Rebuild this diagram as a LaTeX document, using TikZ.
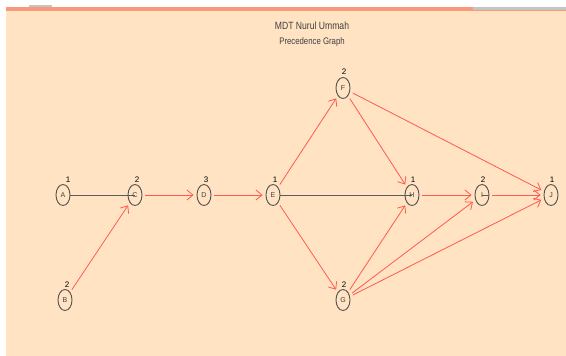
\documentclass[tikz,border=0pt]{standalone}
\usepackage{fontspec}
\setmainfont{Liberation Sans}
\usetikzlibrary{shapes.geometric,arrows.meta,backgrounds}
\definecolor{bg}{HTML}{FFE3C3}
\definecolor{stripe}{HTML}{F8997A}
\definecolor{redl}{HTML}{FF5A4E}
\definecolor{dk}{HTML}{3F3F3F}
\definecolor{gr}{HTML}{C4C4C4}
\tikzset{
  act/.style={ellipse,draw=dk!90,line width=0.9pt,minimum width=14pt,minimum height=21pt,inner sep=0pt,font=\fontsize{7}{7}\selectfont,text=dk},
  dur/.style={font=\fontsize{8}{8}\selectfont,text=black,inner sep=0pt},
  redarr/.style={draw=redl,line width=0.8pt,-{Straight Barb[length=6pt,width=10pt,line width=0.8pt]},shorten >=3pt,shorten <=3pt},
  blk/.style={draw=dk!85,line width=0.9pt}
}
\begin{document}
\begin{tikzpicture}[x=1pt,y=-1pt]
\useasboundingbox (0,0) rectangle (566,356);
% nodes
\node[act] (A) at (63,195) {A};
\node[act] (B) at (65,300) {B};
\node[act] (C) at (135,195) {C};
\node[act] (D) at (204,195) {D};
\node[act] (E) at (273,195) {E};
\node[act] (F) at (343,88) {F};
\node[act] (G) at (343,300) {G};
\node[act] (H) at (412,195) {H};
\node[act] (I) at (482,195) {I};
\node[act] (J) at (551,195) {J};
\begin{scope}[on background layer]
\fill[white] (0,0) rectangle (566,356);
\fill[bg] (6,10) rectangle (566,356);
\fill[stripe] (6,7) rectangle (566,11);
\fill[gr] (473,7) rectangle (566,9.5);
\fill[gr] (29,5) rectangle (52,7);
\draw[blk] (A) -- (C.center);
\draw[blk] (E) -- (H.center);
\draw[blk] (I.center) -- (I.east);
\end{scope}
\node[font=\fontsize{10.5}{10.5}\selectfont,text=dk,xscale=0.82] (t1) at (312,26) {MDT Nurul Ummah};
\node[font=\fontsize{9.5}{9.5}\selectfont,text=dk,xscale=0.82] (t2) at (312,42) {Precedence Graph};
% durations
\node[dur] (dA) at (68,180) {1};
\node[dur] (dB) at (67,285) {2};
\node[dur] (dC) at (137,180) {2};
\node[dur] (dD) at (206,180) {3};
\node[dur] (dE) at (275,180) {1};
\node[dur] (dF) at (344,72) {2};
\node[dur] (dG) at (344,285) {2};
\node[dur] (dH) at (413,180) {1};
\node[dur] (dI) at (483,180) {2};
\node[dur] (dJ) at (552,180) {1};
% edges
\draw[redarr] (C) -- (D);
\draw[redarr] (D) -- (E);
\draw[redarr] (B) -- (C);
\draw[redarr] (E) -- (F);
\draw[redarr] (E) -- (G);
\draw[redarr] (F) -- (H);
\draw[redarr] (F) -- (J);
\draw[redarr] (G) -- (H);
\draw[redarr] (G) -- (I);
\draw[redarr] (G) -- (J);
\draw[redarr] (H) -- (I);
\draw[redarr] (I) -- (J);
\end{tikzpicture}
\end{document}
